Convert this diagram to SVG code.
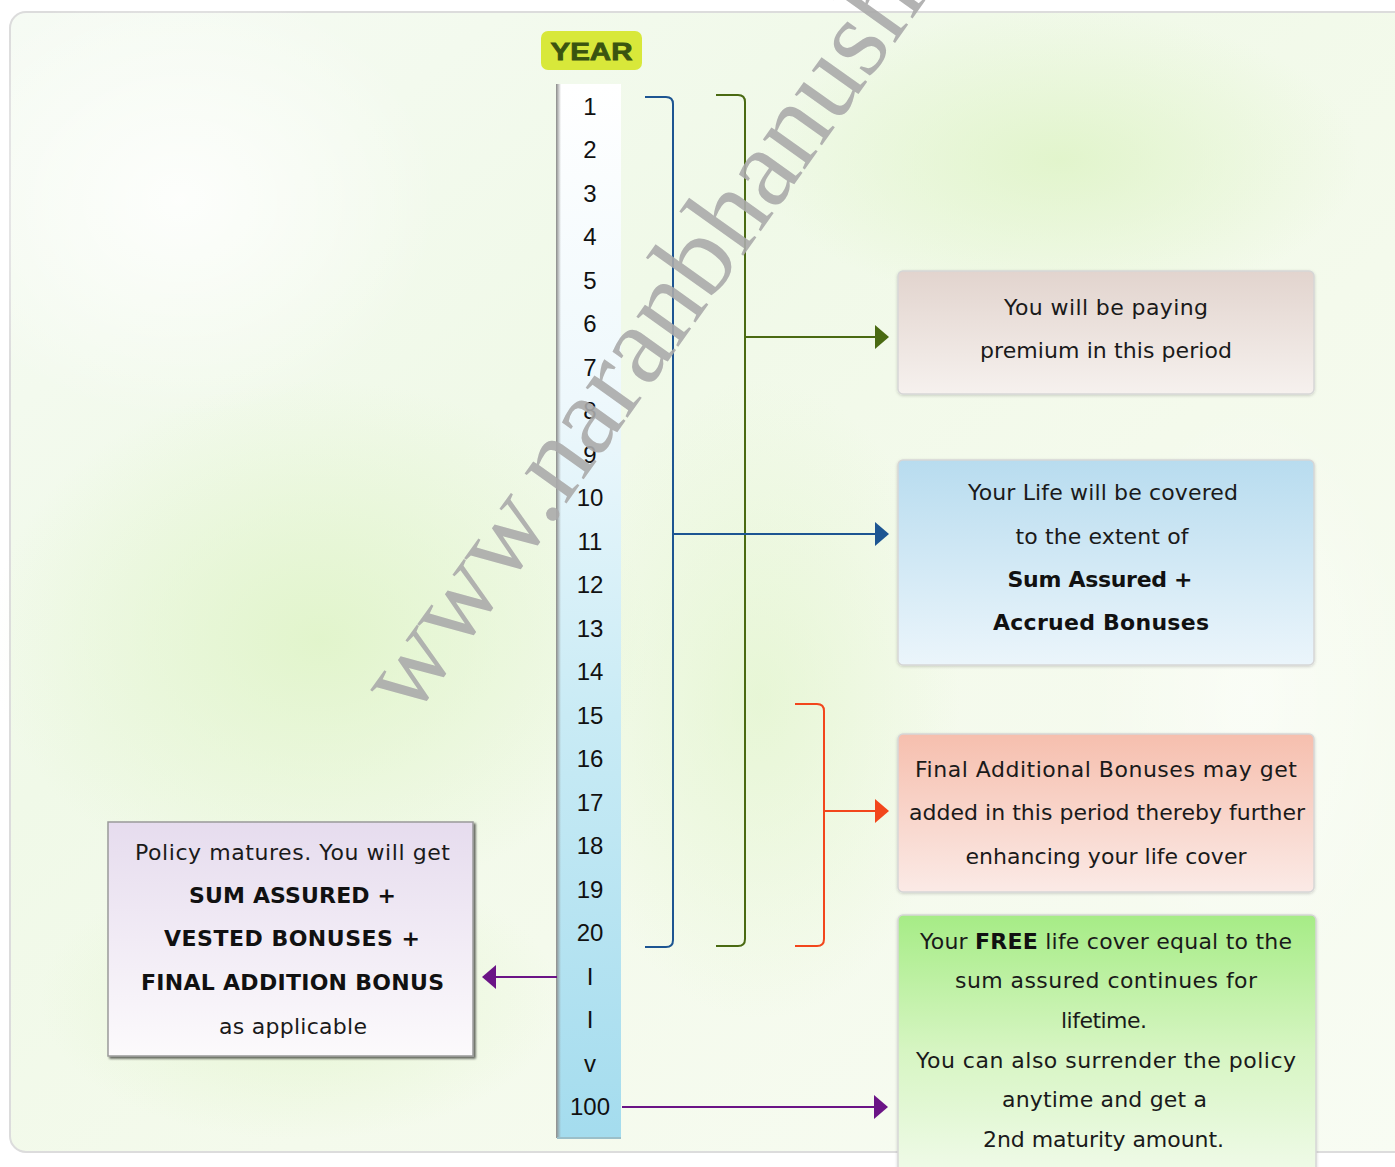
<svg xmlns="http://www.w3.org/2000/svg" width="1395" height="1167" viewBox="0 0 1395 1167">
<defs>
<style>
.t{font-family:"DejaVu Sans","Liberation Sans",sans-serif;font-size:22px;fill:#1a1a1a;text-anchor:middle}
.b{font-weight:bold;fill:#111}
.n{font-family:"Liberation Sans",Arial,sans-serif;font-size:24px;fill:#111;text-anchor:middle}
.con{fill:none;stroke-width:2}
</style>
<linearGradient id="bg" x1="0" y1="0" x2="1" y2="1">
<stop offset="0" stop-color="#f6fbf4"/>
<stop offset="0.35" stop-color="#f0f9e8"/>
<stop offset="0.6" stop-color="#f4faec"/>
<stop offset="1" stop-color="#f8fcf3"/>
</linearGradient>
<radialGradient id="g1" cx="0.5" cy="0.5" r="0.5">
<stop offset="0" stop-color="#e0f4c9" stop-opacity="0.9"/>
<stop offset="1" stop-color="#e0f4c9" stop-opacity="0"/>
</radialGradient>
<radialGradient id="w1" cx="0.5" cy="0.5" r="0.5">
<stop offset="0" stop-color="#ffffff" stop-opacity="0.8"/>
<stop offset="1" stop-color="#ffffff" stop-opacity="0"/>
</radialGradient>
<linearGradient id="col" x1="0" y1="0" x2="0" y2="1">
<stop offset="0" stop-color="#ffffff"/>
<stop offset="0.3" stop-color="#eef8fc"/>
<stop offset="0.6" stop-color="#c9ebf5"/>
<stop offset="1" stop-color="#a4dcee"/>
</linearGradient>
<linearGradient id="colEdge" x1="0" y1="0" x2="1" y2="0">
<stop offset="0" stop-color="#8a8a8a"/>
<stop offset="1" stop-color="#8a8a8a" stop-opacity="0"/>
</linearGradient>
<linearGradient id="gA" x1="0" y1="0" x2="0" y2="1">
<stop offset="0" stop-color="#e2d4ce"/>
<stop offset="1" stop-color="#f6f1ee"/>
</linearGradient>
<linearGradient id="gB" x1="0" y1="0" x2="0" y2="1">
<stop offset="0" stop-color="#b8dcef"/>
<stop offset="1" stop-color="#ebf5fb"/>
</linearGradient>
<linearGradient id="gC" x1="0" y1="0" x2="0" y2="1">
<stop offset="0" stop-color="#f6bfae"/>
<stop offset="1" stop-color="#fbeae6"/>
</linearGradient>
<linearGradient id="gD" x1="0" y1="0" x2="0" y2="1">
<stop offset="0" stop-color="#a6ec86"/>
<stop offset="0.5" stop-color="#d6f5c2"/>
<stop offset="1" stop-color="#f2fbec"/>
</linearGradient>
<linearGradient id="gE" x1="0" y1="0" x2="0" y2="1">
<stop offset="0" stop-color="#e6dcee"/>
<stop offset="1" stop-color="#fcfafc"/>
</linearGradient>
<marker id="mBlue" markerUnits="userSpaceOnUse" viewBox="0 0 14 24" markerWidth="14" markerHeight="24" refX="13" refY="12" orient="auto"><path d="M0,0 L14,12 L0,24 z" fill="#1d5592"/></marker>
<marker id="mGreen" markerUnits="userSpaceOnUse" viewBox="0 0 14 24" markerWidth="14" markerHeight="24" refX="13" refY="12" orient="auto"><path d="M0,0 L14,12 L0,24 z" fill="#4a6a12"/></marker>
<marker id="mOrange" markerUnits="userSpaceOnUse" viewBox="0 0 14 24" markerWidth="14" markerHeight="24" refX="13" refY="12" orient="auto"><path d="M0,0 L14,12 L0,24 z" fill="#f2461c"/></marker>
<marker id="mPurple" markerUnits="userSpaceOnUse" viewBox="0 0 14 24" markerWidth="14" markerHeight="24" refX="13" refY="12" orient="auto"><path d="M0,0 L14,12 L0,24 z" fill="#6b1486"/></marker>
<filter id="sh" x="-5%" y="-5%" width="110%" height="115%"><feDropShadow dx="0" dy="1" stdDeviation="1.5" flood-color="#000" flood-opacity="0.18"/></filter>
<filter id="shE" x="-5%" y="-5%" width="110%" height="115%"><feDropShadow dx="2" dy="2" stdDeviation="1" flood-color="#000" flood-opacity="0.6"/></filter>
</defs>

<rect x="0" y="0" width="1395" height="1167" fill="#ffffff"/>
<g id="panel">
<rect x="10" y="12" width="1400" height="1140" rx="16" fill="url(#bg)" stroke="#dcdcdc" stroke-width="2"/>
<ellipse cx="320" cy="640" rx="330" ry="260" fill="url(#g1)"/>
<ellipse cx="1060" cy="160" rx="300" ry="150" fill="url(#g1)"/>
<ellipse cx="760" cy="700" rx="200" ry="320" fill="url(#g1)" opacity="0.7"/>
<ellipse cx="300" cy="1000" rx="260" ry="140" fill="url(#g1)" opacity="0.8"/>
<ellipse cx="180" cy="200" rx="260" ry="220" fill="url(#w1)"/>
<ellipse cx="1250" cy="700" rx="160" ry="300" fill="url(#w1)" opacity="0.6"/>
</g>

<g id="year-badge">
<rect x="541" y="31" width="101" height="39" rx="7" fill="#d8e83a"/>
<text x="591.5" y="60" font-family="'Liberation Sans',Arial,sans-serif" font-size="24" font-weight="900" fill="#3a5410" stroke="#3a5410" stroke-width="0.8" text-anchor="middle" textLength="82" lengthAdjust="spacingAndGlyphs">YEAR</text>
</g>

<g id="year-column">
<rect x="557" y="84" width="64" height="1054" fill="url(#col)"/>
<rect x="556" y="84" width="5" height="1054" fill="url(#colEdge)"/>
<line x1="557" y1="1138" x2="621" y2="1138" stroke="#9bbfc9" stroke-width="2"/>
<text class="n" x="590" y="115">1</text>
<text class="n" x="590" y="158">2</text>
<text class="n" x="590" y="202">3</text>
<text class="n" x="590" y="245">4</text>
<text class="n" x="590" y="289">5</text>
<text class="n" x="590" y="332">6</text>
<text class="n" x="590" y="376">7</text>
<text class="n" x="590" y="419">8</text>
<text class="n" x="590" y="463">9</text>
<text class="n" x="590" y="506">10</text>
<text class="n" x="590" y="550">11</text>
<text class="n" x="590" y="593">12</text>
<text class="n" x="590" y="637">13</text>
<text class="n" x="590" y="680">14</text>
<text class="n" x="590" y="724">15</text>
<text class="n" x="590" y="767">16</text>
<text class="n" x="590" y="811">17</text>
<text class="n" x="590" y="854">18</text>
<text class="n" x="590" y="898">19</text>
<text class="n" x="590" y="941">20</text>
<text class="n" x="590" y="985">I</text>
<text class="n" x="590" y="1028">I</text>
<text class="n" x="590" y="1072">v</text>
<text class="n" x="590" y="1115">100</text>
</g>

<g id="connectors">
<path class="con" stroke="#1d5592" d="M645,97 H666 Q673,97 673,104 V940 Q673,947 666,947 H645"/>
<path class="con" stroke="#4a6a12" d="M716,95 H738 Q745,95 745,102 V939 Q745,946 738,946 H716"/>
<path class="con" stroke="#f2461c" d="M795,704 H817 Q824,704 824,711 V939 Q824,946 817,946 H795"/>
<line class="con" stroke="#4a6a12" x1="745" y1="337" x2="888" y2="337" marker-end="url(#mGreen)"/>
<line class="con" stroke="#1d5592" x1="673" y1="534" x2="888" y2="534" marker-end="url(#mBlue)"/>
<line class="con" stroke="#f2461c" x1="824" y1="811" x2="888" y2="811" marker-end="url(#mOrange)"/>
<line class="con" stroke="#6b1486" x1="557" y1="977" x2="483" y2="977" marker-end="url(#mPurple)"/>
<line class="con" stroke="#6b1486" x1="622" y1="1107" x2="887" y2="1107" marker-end="url(#mPurple)"/>
</g>

<g id="box-premium">
<rect x="898" y="271" width="416" height="123" rx="5" fill="url(#gA)" stroke="#d6d6d6" stroke-width="1.5" filter="url(#sh)"/>
<text class="t" x="1106" y="315" textLength="204" lengthAdjust="spacing">You will be paying</text>
<text class="t" x="1106" y="358" textLength="252" lengthAdjust="spacing">premium in this period</text>
</g>

<g id="box-cover">
<rect x="898" y="460" width="416" height="205" rx="5" fill="url(#gB)" stroke="#d6d6d6" stroke-width="1.5" filter="url(#sh)"/>
<text class="t" x="1103" y="500" textLength="270" lengthAdjust="spacing">Your Life will be covered</text>
<text class="t" x="1102" y="544" textLength="173" lengthAdjust="spacing">to the extent of</text>
<text class="t b" x="1100" y="587" textLength="185" lengthAdjust="spacing">Sum Assured +</text>
<text class="t b" x="1101" y="630" textLength="216" lengthAdjust="spacing">Accrued Bonuses</text>
</g>

<g id="box-final">
<rect x="898" y="734" width="416" height="158" rx="5" fill="url(#gC)" stroke="#d6d6d6" stroke-width="1.5" filter="url(#sh)"/>
<text class="t" x="1106" y="777" textLength="382" lengthAdjust="spacing">Final Additional Bonuses may get</text>
<text class="t" x="1107" y="820" textLength="396" lengthAdjust="spacing">added in this period thereby further</text>
<text class="t" x="1106" y="864" textLength="281" lengthAdjust="spacing">enhancing your life cover</text>
</g>

<g id="box-free">
<rect x="898" y="915" width="418" height="270" rx="5" fill="url(#gD)" stroke="#d6d6d6" stroke-width="1.5" filter="url(#sh)"/>
<text class="t" x="1106" y="949" textLength="372" lengthAdjust="spacing">Your <tspan font-weight="bold" fill="#111">FREE</tspan> life cover equal to the</text>
<text class="t" x="1106" y="988" textLength="302" lengthAdjust="spacing">sum assured continues for</text>
<text class="t" x="1104" y="1028" textLength="86" lengthAdjust="spacing">lifetime.</text>
<text class="t" x="1106" y="1068" textLength="380" lengthAdjust="spacing">You can also surrender the policy</text>
<text class="t" x="1104.5" y="1107" textLength="205" lengthAdjust="spacing">anytime and get a</text>
<text class="t" x="1103.5" y="1147" textLength="241" lengthAdjust="spacing">2nd maturity amount.</text>
</g>

<g id="box-maturity">
<rect x="108" y="822" width="365" height="234" fill="url(#gE)" stroke="#9a9a9a" stroke-width="1.5" filter="url(#shE)"/>
<text class="t" x="292.5" y="860" textLength="315" lengthAdjust="spacing">Policy matures. You will get</text>
<text class="t b" x="292.5" y="903" textLength="207" lengthAdjust="spacing">SUM ASSURED +</text>
<text class="t b" x="292" y="946" textLength="256" lengthAdjust="spacing">VESTED BONUSES +</text>
<text class="t b" x="292.5" y="990" textLength="303" lengthAdjust="spacing">FINAL ADDITION BONUS</text>
<text class="t" x="293" y="1034" textLength="148" lengthAdjust="spacing">as applicable</text>
</g>

<g id="watermark">
<text x="0" y="0" transform="translate(412,720) rotate(-54.5)" font-family="'Liberation Serif','Times New Roman',serif" font-size="112" fill="#ababab" opacity="0.9">www.naranbhanush</text>
</g>
</svg>
